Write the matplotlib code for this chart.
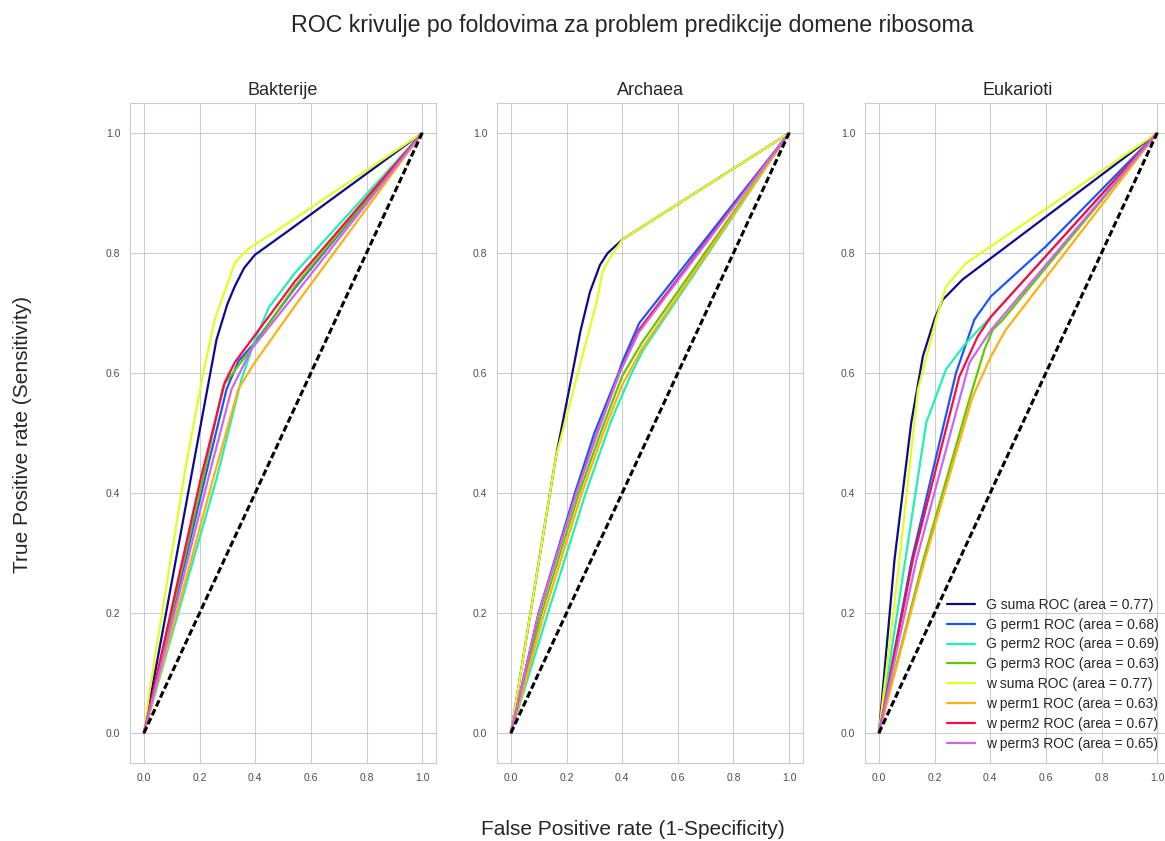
import numpy as np
import matplotlib
matplotlib.use("Agg")
import matplotlib.pyplot as plt
import seaborn as sns

sns.set_style("whitegrid")
plt.rcParams['font.family'] = ['Liberation Sans', 'DejaVu Sans']

# imena serija, boje i AUC vrijednosti iz legende
series_names = ['G suma', 'G perm1', 'G perm2', 'G perm3',
                'w suma', 'w perm1', 'w perm2', 'w perm3']
series_colors = ['#0b0b8c', '#1a55ff', '#1ef2b0', '#62c800',
                 '#e0ff1e', '#ffb010', '#ff0a46', '#cc66ee']
legend_auc = [0.77, 0.68, 0.69, 0.63, 0.77, 0.63, 0.67, 0.65]
panel_titles = ['Bakterije', 'Archaea', 'Eukarioti']

# Bakterije: (fpr, tpr)
bak_g_suma = ([0, 0.174, 0.261, 0.30, 0.327, 0.36, 0.399, 0.525, 1],
              [0, 0.438, 0.656, 0.715, 0.745, 0.775, 0.797, 0.839, 1])
bak_g_perm1 = ([0, 0.219, 0.297, 0.34, 0.399, 0.543, 1],
               [0, 0.424, 0.573, 0.62, 0.651, 0.742, 1])
bak_g_perm2 = ([0, 0.261, 0.351, 0.399, 0.45, 0.543, 1],
               [0, 0.424, 0.59, 0.656, 0.71, 0.767, 1])
bak_g_perm3 = ([0, 0.212, 0.285, 0.411, 0.543, 1],
               [0, 0.424, 0.579, 0.656, 0.745, 1])
bak_w_suma = ([0, 0.02, 0.148, 0.213, 0.255, 0.327, 0.375, 0.483, 1],
              [0, 0.07, 0.438, 0.60, 0.69, 0.784, 0.807, 0.839, 1])
bak_w_perm1 = ([0, 0.249, 0.339, 0.399, 0.543, 1],
               [0, 0.424, 0.573, 0.618, 0.712, 1])
bak_w_perm2 = ([0, 0.204, 0.291, 0.327, 0.423, 0.543, 1],
               [0, 0.424, 0.585, 0.618, 0.678, 0.753, 1])
bak_w_perm3 = ([0, 0.231, 0.315, 0.387, 0.543, 1],
               [0, 0.424, 0.573, 0.64, 0.731, 1])

# Archaea
arc_g_suma = ([0, 0.162, 0.221, 0.25, 0.284, 0.32, 0.348, 0.402, 1],
              [0, 0.461, 0.60, 0.67, 0.735, 0.78, 0.80, 0.823, 1])
arc_g_perm1 = ([0, 0.10, 0.23, 0.30, 0.387, 0.40, 0.461, 1],
               [0, 0.20, 0.40, 0.50, 0.60, 0.618, 0.683, 1])
arc_g_perm2 = ([0, 0.133, 0.269, 0.36, 0.434, 0.476, 1],
               [0, 0.20, 0.40, 0.52, 0.60, 0.639, 1])
arc_g_perm3 = ([0, 0.11, 0.245, 0.33, 0.40, 0.47, 1],
               [0, 0.20, 0.40, 0.51, 0.595, 0.65, 1])
arc_w_suma = ([0, 0.162, 0.241, 0.31, 0.33, 0.36, 0.402, 1],
              [0, 0.461, 0.60, 0.722, 0.77, 0.795, 0.823, 1])
arc_w_perm1 = ([0, 0.12, 0.255, 0.34, 0.40, 0.47, 1],
               [0, 0.20, 0.40, 0.51, 0.58, 0.64, 1])
arc_w_perm2 = ([0, 0.10, 0.235, 0.31, 0.39, 0.46, 1],
               [0, 0.20, 0.40, 0.50, 0.60, 0.672, 1])
arc_w_perm3 = ([0, 0.10, 0.235, 0.31, 0.39, 0.46, 1],
               [0, 0.20, 0.40, 0.50, 0.60, 0.668, 1])

# Eukarioti
euk_g_suma = ([0, 0.056, 0.116, 0.158, 0.20, 0.229, 0.301, 1],
              [0, 0.289, 0.517, 0.628, 0.69, 0.722, 0.756, 1])
euk_g_perm1 = ([0, 0.118, 0.277, 0.343, 0.403, 0.60, 1],
               [0, 0.289, 0.60, 0.689, 0.728, 0.811, 1])
euk_g_perm2 = ([0, 0.095, 0.17, 0.241, 0.313, 0.403, 1],
               [0, 0.289, 0.517, 0.606, 0.65, 0.694, 1])
euk_g_perm3 = ([0, 0.16, 0.325, 0.38, 0.409, 0.444, 1],
               [0, 0.289, 0.556, 0.64, 0.672, 0.688, 1])
euk_w_suma = ([0, 0.074, 0.14, 0.205, 0.241, 0.313, 1],
              [0, 0.289, 0.572, 0.689, 0.744, 0.783, 1])
euk_w_perm1 = ([0, 0.165, 0.337, 0.403, 0.456, 1],
               [0, 0.289, 0.561, 0.628, 0.672, 1])
euk_w_perm2 = ([0, 0.122, 0.289, 0.355, 0.403, 1],
               [0, 0.289, 0.594, 0.661, 0.694, 1])
euk_w_perm3 = ([0, 0.135, 0.325, 0.403, 1],
               [0, 0.289, 0.617, 0.672, 1])

panels = [
    [bak_g_suma, bak_g_perm1, bak_g_perm2, bak_g_perm3,
     bak_w_suma, bak_w_perm1, bak_w_perm2, bak_w_perm3],
    [arc_g_suma, arc_g_perm1, arc_g_perm2, arc_g_perm3,
     arc_w_suma, arc_w_perm1, arc_w_perm2, arc_w_perm3],
    [euk_g_suma, euk_g_perm1, euk_g_perm2, euk_g_perm3,
     euk_w_suma, euk_w_perm1, euk_w_perm2, euk_w_perm3],
]

fig = plt.figure(figsize=(11.65, 8.41), dpi=100)
lefts = [0.1116, 0.4266, 0.7425]
ticks = [0.0, 0.2, 0.4, 0.6, 0.8, 1.0]

for i, curves in enumerate(panels):
    ax = fig.add_axes([lefts[i], 0.0927, 0.2627, 0.7848])
    for j, (fpr, tpr) in enumerate(curves):
        ax.plot(fpr, tpr, color=series_colors[j], lw=1.6,
                label='%s ROC (area = %.2f)' % (series_names[j], legend_auc[j]))
    ax.plot([0, 1], [0, 1], 'k--', lw=2.2, dashes=(2.2, 1))
    ax.set_xlim(-0.05, 1.05)
    ax.set_ylim(-0.05, 1.05)
    ax.set_xticks(ticks)
    ax.set_yticks(ticks)
    ax.tick_params(labelsize=7.5, colors='.3')
    ax.set_title(panel_titles[i], fontsize=13, color='.15')
    if i == 2:
        ax.legend(loc='lower right', fontsize=10, frameon=False,
                  labelspacing=0.42)

fig.text(0.543, 0.97, 'ROC krivulje po foldovima za problem predikcije domene ribosoma',
         ha='center', va='center', fontsize=16.7, color='.15')
fig.text(0.543, 0.014, 'False Positive rate (1-Specificity)',
         ha='center', va='center', fontsize=15, color='.15')
fig.text(0.019, 0.483, 'True Positive rate (Sensitivity)',
         ha='center', va='center', rotation=90, fontsize=15, color='.15')

fig.savefig('out.png', dpi=100)
